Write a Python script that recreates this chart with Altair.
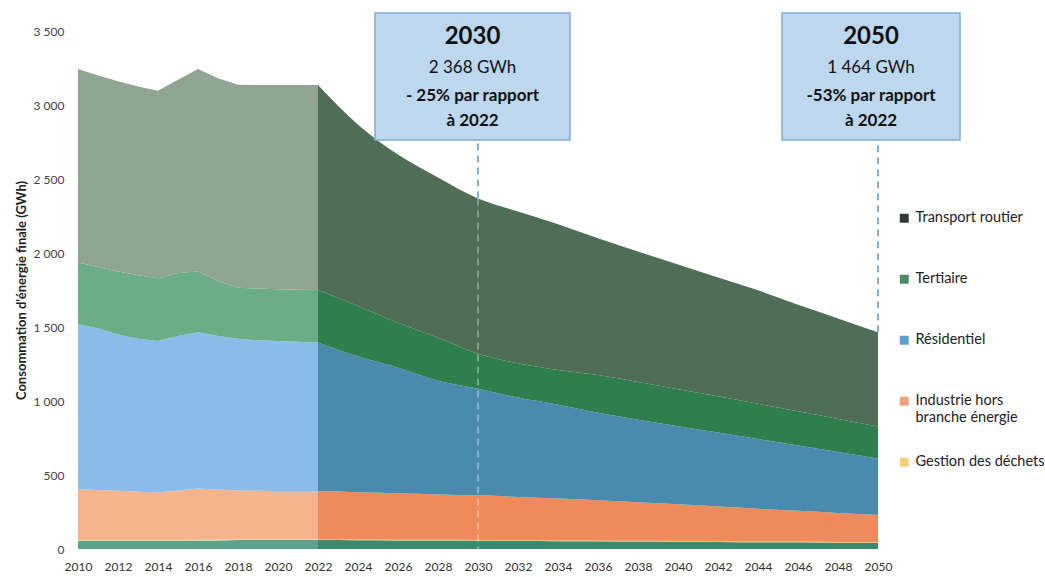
import altair as alt
import pandas as pd

# ---------------- data ----------------
series_names = ["Autres", "Gestion des déchets", "Industrie hors branche énergie",
                "Résidentiel", "Tertiaire", "Transport routier"]
legend_names = ["Transport routier", "Tertiaire", "Résidentiel",
                "Industrie hors branche énergie", "Gestion des déchets"]

hist_years = [2010, 2011, 2012, 2013, 2014, 2015, 2016, 2017, 2018, 2019, 2020, 2021, 2022]
hist_autres = [55, 55, 55, 55, 55, 55, 57, 58, 60, 60, 60, 60, 60]
hist_dechets = [5, 5, 5, 5, 5, 5, 5, 5, 5, 5, 5, 5, 5]
hist_industrie = [344, 338, 333, 327, 322, 335, 347, 339, 330, 328, 327, 327, 327]
hist_residentiel = [1116, 1092, 1057, 1033, 1023, 1045, 1056, 1038, 1025, 1017, 1013, 1008, 1003]
hist_tertiaire = [415, 415, 425, 430, 425, 425, 410, 370, 345, 350, 350, 352, 355]
hist_transport = [1309, 1295, 1285, 1275, 1266, 1305, 1369, 1370, 1371, 1375, 1380, 1383, 1385]

proj_years = [2022, 2024, 2026, 2028, 2030, 2032, 2034, 2036, 2038, 2040, 2042, 2044, 2046, 2048, 2050]
proj_autres = [60, 59, 58, 57, 56, 54, 53, 52, 50, 49, 48, 46, 45, 43, 42]
proj_dechets = [5, 5, 5, 5, 5, 5, 5, 5, 5, 5, 5, 5, 5, 5, 5]
proj_industrie = [327, 320, 313, 307, 302, 293, 283, 273, 261, 248, 234, 221, 208, 195, 182]
proj_residentiel = [1003, 916, 849, 768, 720, 671, 634, 590, 558, 528, 500, 471, 442, 413, 383]
proj_tertiaire = [355, 342, 303, 290, 236, 232, 235, 255, 254, 250, 245, 238, 230, 222, 215]
proj_transport = [1385, 1225, 1137, 1083, 1049, 1025, 985, 925, 882, 842, 803, 767, 720, 680, 637]

x_ticks = list(range(2010, 2051, 2))
y_ticks = [0, 500, 1000, 1500, 2000, 2500, 3000, 3500]

ann_year = [2030, 2050]
ann_total = [2368, 1464]
ann_box_left = [2024.85, 2045.2]
ann_box_right = [2034.6, 2054.1]
ann_l1 = ["2030", "2050"]
ann_l2 = ["2 368 GWh", "1 464 GWh"]
ann_l3 = ["- 25% par rapport", "-53% par rapport"]
ann_l4 = ["à 2022", "à 2022"]

hist_colors = ["#5aa58a", "#f3d58a", "#f6b48c", "#8bbbe8", "#6aad86", "#8fa592"]
proj_colors = ["#3a8a6e", "#e6c25a", "#ef8a5c", "#4a8bad", "#2f7e4e", "#4f6e55"]
legend_colors = ["#2f3b33", "#4a8a66", "#5b9ed0", "#f7a075", "#f2d07a"]

Y_TITLE = "Consommation d'énergie finale (GWh)"


def long_df(years, cols):
    rows = []
    for rank, (name, vals) in enumerate(zip(series_names, cols)):
        for y, v in zip(years, vals):
            rows.append({"year": y, "value": v, "series": name, "rank": rank})
    return pd.DataFrame(rows)


hist_df = long_df(hist_years, [hist_autres, hist_dechets, hist_industrie,
                               hist_residentiel, hist_tertiaire, hist_transport])
proj_df = long_df(proj_years, [proj_autres, proj_dechets, proj_industrie,
                               proj_residentiel, proj_tertiaire, proj_transport])
legend_df = proj_df[proj_df["series"].isin(legend_names)]
ann_df = pd.DataFrame({"year": ann_year, "total": ann_total,
                       "left": ann_box_left, "right": ann_box_right,
                       "center": [(a + b) / 2 for a, b in zip(ann_box_left, ann_box_right)],
                       "l1": ann_l1, "l2": ann_l2, "l3": ann_l3, "l4": ann_l4})

FONT = "Lato"
xscale = alt.Scale(domain=[2010, 2050], nice=False, zero=False)
yscale = alt.Scale(domain=[0, 3500], nice=False)

x_axis = alt.Axis(values=x_ticks, format="d", domain=False, ticks=False, grid=False,
                  labelFontSize=12, labelColor="#333333", labelPadding=12,
                  labelFont=FONT, labelOverlap=False, labelFlush=False, title=None)
y_axis = alt.Axis(values=y_ticks, domain=False, ticks=False, grid=False,
                  labelExpr="replace(format(datum.value, ','), ',', ' ')",
                  labelFontSize=12, labelColor="#444444", labelPadding=14, labelFont=FONT,
                  labelOverlap=False,
                  title=Y_TITLE, titleFontSize=13,
                  titleFont=FONT, titleFontWeight="bold", titleColor="#222222",
                  titlePadding=5)


def X(field):
    return alt.X(field, scale=xscale, axis=x_axis)


def Y(field, **kw):
    return alt.Y(field, scale=yscale, axis=y_axis, **kw)


hist_area = alt.Chart(hist_df).mark_area(interpolate="linear").encode(
    x=X("year:Q"),
    y=Y("value:Q", stack="zero"),
    color=alt.Color("series:N", scale=alt.Scale(domain=series_names, range=hist_colors), legend=None),
    order=alt.Order("rank:Q"),
)

proj_area = alt.Chart(proj_df).mark_area(interpolate="monotone").encode(
    x=X("year:Q"),
    y=Y("value:Q", stack="zero"),
    color=alt.Color("series:N", scale=alt.Scale(domain=series_names, range=proj_colors), legend=None),
    order=alt.Order("rank:Q"),
)

legend_layer = alt.Chart(legend_df).mark_square(opacity=0).encode(
    x=X("year:Q"),
    y=Y("value:Q"),
    color=alt.Color("series:N",
                    scale=alt.Scale(domain=legend_names, range=legend_colors),
                    legend=alt.Legend(
                        title=None, orient="none", legendX=819, legendY=180,
                        symbolType="square", symbolSize=80, symbolOpacity=1,
                        symbolStrokeWidth=0, labelFont=FONT, labelFontSize=14.5,
                        labelColor="#222222", labelLimit=200, rowPadding=29,
                        gridAlign="all", labelOffset=4, padding=0,
                        labelExpr="datum.label == 'Industrie hors branche énergie' ? ['Industrie hors', 'branche énergie'] : datum.label")),
)

rule_out = alt.Chart(ann_df).mark_rule(color="#7fb1e3", strokeDash=[7, 5], strokeWidth=2).encode(
    x=X("year:Q"),
    y=Y("total:Q"),
    y2=alt.value(109),
)
rule_in = alt.Chart(ann_df).transform_filter("datum.year < 2050").mark_rule(
    color="#ffffff", opacity=0.35, strokeDash=[7, 5], strokeWidth=2).encode(
    x=X("year:Q"),
    y=Y("total:Q"),
    y2=alt.value(518),
)

boxes = alt.Chart(ann_df).mark_rect(fill="#bdd7ee", stroke="#82abd8", strokeWidth=1.5).encode(
    x=X("left:Q"),
    x2="right:Q",
    y=alt.value(-18),
    y2=alt.value(109),
)


def txt(field, ypix, size, weight):
    return alt.Chart(ann_df).mark_text(font=FONT, fontSize=size, fontWeight=weight,
                                       color="#111111", baseline="middle", align="center").encode(
        x=X("center:Q"),
        y=alt.value(ypix),
        text=f"{field}:N",
    )


chart = alt.layer(
    hist_area, proj_area, rule_in, rule_out, boxes,
    txt("l1", 6, 24, "bold"), txt("l2", 37, 17, "normal"),
    txt("l3", 65, 17, "bold"), txt("l4", 90, 17, "bold"),
    legend_layer,
).resolve_scale(color="independent").properties(
    width=800, height=518,
    autosize=alt.AutoSizeParams(type="none"),
    padding={"left": 78, "top": 31, "right": 167, "bottom": 28},
    background="white",
).configure_view(stroke=None)

chart.save("out.html", embed_options={"renderer": "svg", "actions": False})
